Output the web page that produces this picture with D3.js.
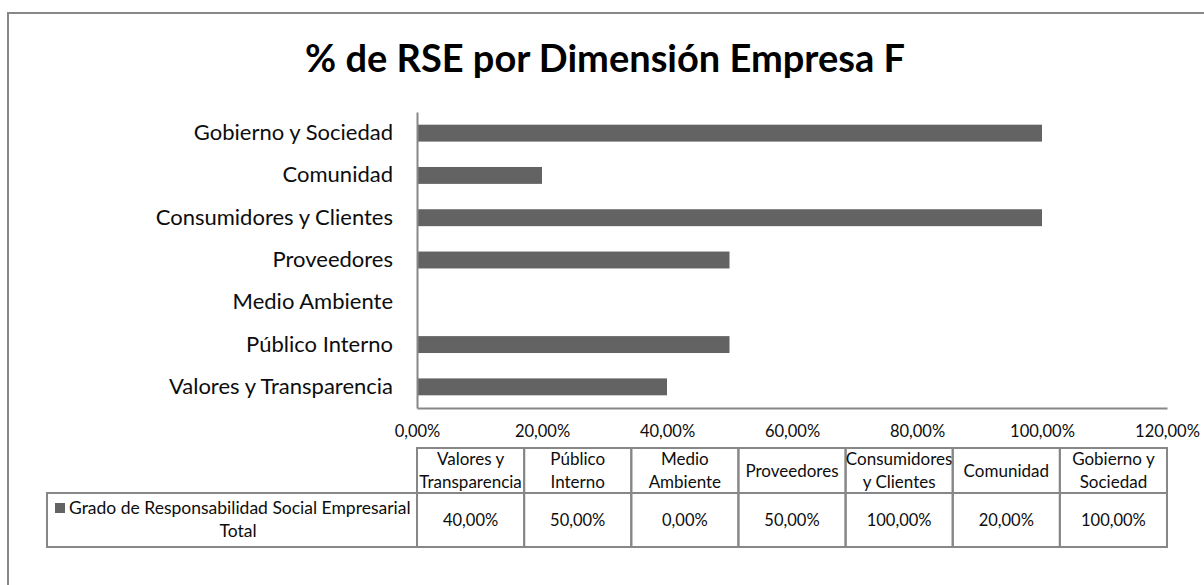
<!DOCTYPE html>
<html>
<head>
<meta charset="utf-8">
<script src="https://cdn.jsdelivr.net/npm/d3@7"></script>
<style>
  html, body { margin: 0; padding: 0; background: #fff; }
  svg { display: block; font-family: Lato, "Open Sans", sans-serif; }
</style>
</head>
<body>
<svg id="chart" width="1204" height="585"></svg>
<script>
// Dimensions of corporate social responsibility, in table order
const categories = [
  "Valores y Transparencia",
  "Público Interno",
  "Medio Ambiente",
  "Proveedores",
  "Consumidores y Clientes",
  "Comunidad",
  "Gobierno y Sociedad"
];
// Share achieved per dimension
const values = [0.40, 0.50, 0.00, 0.50, 1.00, 0.20, 1.00];
// Column headings of the data table, split over lines
const headerLines = [
  ["Valores y", "Transparencia"],
  ["Público", "Interno"],
  ["Medio", "Ambiente"],
  ["Proveedores"],
  ["Consumidores", "y Clientes"],
  ["Comunidad"],
  ["Gobierno y", "Sociedad"]
];
const xTicks = [0, 0.2, 0.4, 0.6, 0.8, 1.0, 1.2];
const seriesName = ["Grado de Responsabilidad Social Empresarial", "Total"];
const title = "% de RSE por Dimensión Empresa F";

const locale = d3.formatLocale({ decimal: ",", thousands: ".", grouping: [3], currency: ["", "€"], percent: "%" });
const pct = locale.format(".2%");

const svg = d3.select("#chart");
const gray = "#878787";
const barColor = "#636363";
const ink = "#0d0d0d";

// outer chart frame
svg.append("rect")
  .attr("x", 8).attr("y", 13)
  .attr("width", 1230).attr("height", 620)
  .attr("fill", "none").attr("stroke", gray).attr("stroke-width", 2);

// title
svg.append("text")
  .attr("x", 605).attr("y", 72)
  .attr("text-anchor", "middle")
  .attr("font-size", 38).attr("font-weight", "bold")
  .attr("fill", "#000")
  .text(title);

const plot = { left: 417, right: 1167, top: 112, bottom: 408 };

const x = d3.scaleLinear().domain([0, 1.2]).range([plot.left, plot.right]);
const y = d3.scaleBand()
  .domain(categories.slice().reverse())
  .range([plot.top, plot.bottom])
  .paddingInner(0.6).paddingOuter(0.3);

// bars
svg.append("g").selectAll("rect")
  .data(categories.map((c, i) => ({ c, v: values[i] })))
  .join("rect")
  .attr("x", x(0))
  .attr("y", d => y(d.c))
  .attr("width", d => x(d.v) - x(0))
  .attr("height", y.bandwidth())
  .attr("fill", barColor);

// category axis
const yAxis = svg.append("g")
  .attr("transform", `translate(${plot.left},0)`)
  .call(d3.axisLeft(y).tickSize(0).tickSizeOuter(0).tickPadding(24));
yAxis.select(".domain").attr("stroke", gray).attr("stroke-width", 2);
yAxis.selectAll("text").attr("font-size", 22).attr("fill", ink).attr("font-family", "Lato");

// value axis
const xAxis = svg.append("g")
  .attr("transform", `translate(0,${plot.bottom})`)
  .call(d3.axisBottom(x).tickValues(xTicks).tickFormat(pct).tickSize(0).tickSizeOuter(0).tickPadding(17));
xAxis.select(".domain").attr("stroke", gray).attr("stroke-width", 2);
xAxis.selectAll("text").attr("font-size", 16.5).attr("fill", ink).attr("font-family", "Lato");

// data table
const col = d3.scaleBand().domain(categories).range([plot.left, plot.right]);
const table = { headTop: 448, rowTop: 493, bottom: 547, legendLeft: 47 };
const tg = svg.append("g").attr("font-size", 17).attr("fill", ink);

const cells = tg.selectAll("g.col").data(categories).join("g").attr("class", "col");
cells.append("rect")
  .attr("x", d => col(d)).attr("y", table.headTop)
  .attr("width", col.bandwidth()).attr("height", table.rowTop - table.headTop)
  .attr("fill", "none").attr("stroke", gray).attr("stroke-width", 2);
cells.append("rect")
  .attr("x", d => col(d)).attr("y", table.rowTop)
  .attr("width", col.bandwidth()).attr("height", table.bottom - table.rowTop)
  .attr("fill", "none").attr("stroke", gray).attr("stroke-width", 2);

cells.each(function (d, i) {
  const lines = headerLines[i];
  const cx = col(d) + col.bandwidth() / 2;
  const mid = (table.headTop + table.rowTop) / 2;
  const lh = 22.5;
  const t = d3.select(this).append("text")
    .attr("text-anchor", "middle").attr("fill", ink);
  lines.forEach((ln, k) => {
    t.append("tspan")
      .attr("x", cx)
      .attr("y", mid + (k - (lines.length - 1) / 2) * lh + 6)
      .text(ln);
  });
  d3.select(this).append("text")
    .attr("text-anchor", "middle").attr("fill", ink)
    .attr("x", cx).attr("y", (table.rowTop + table.bottom) / 2 + 6)
    .attr("font-size", 16.5)
    .text(pct(values[i]));
});

// legend cell
tg.append("rect")
  .attr("x", table.legendLeft).attr("y", table.rowTop)
  .attr("width", plot.left - table.legendLeft).attr("height", table.bottom - table.rowTop)
  .attr("fill", "none").attr("stroke", gray).attr("stroke-width", 2);
tg.append("rect")
  .attr("x", 55).attr("y", 503).attr("width", 10).attr("height", 10)
  .attr("fill", barColor);
tg.append("text")
  .attr("x", 69).attr("y", 514)
  .attr("font-size", 17.5)
  .attr("fill", ink)
  .text(seriesName[0]);
tg.append("text")
  .attr("x", 238).attr("y", 537)
  .attr("font-size", 17.5)
  .attr("text-anchor", "middle")
  .attr("fill", ink)
  .text(seriesName[1]);
</script>
</body>
</html>
